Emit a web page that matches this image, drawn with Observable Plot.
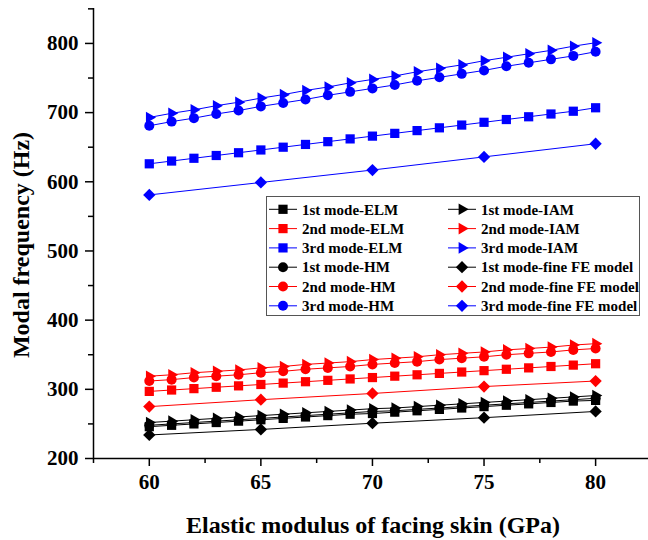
<!DOCTYPE html>
<html><head><meta charset="utf-8">
<script src="https://cdn.jsdelivr.net/npm/d3@7"></script>
<script src="https://cdn.jsdelivr.net/npm/@observablehq/plot@0.6"></script>
<style>
body{margin:0;background:#fff;}
#wrap{position:relative;width:648px;height:540px;overflow:hidden;}
#legend{position:absolute;left:266px;top:196px;}
</style></head><body><div id="wrap"></div>
<script>
// x values
const E = [60,61,62,63,64,65,66,67,68,69,70,71,72,73,74,75,76,77,78,79,80];
const E_FE = [60,65,70,75,80];

// 1st mode
const mode1_ELM = [246,248,250,252,254,256,258,260,262,264,265,267,269,271,273,275,277,279,281,283,284];
const mode1_IAM = [252,254,256,258,260,262,264,266,268,270,272,273,275,277,279,281,283,285,287,289,291];
const mode1_HM  = [248,250,252,254,256,258,260,262,264,266,268,269,271,273,275,277,279,281,283,285,287];
const mode1_FE  = [234,242,251,259,268];
// 2nd mode
const mode2_ELM = [297,299,301,303,305,307,309,311,313,315,317,319,321,323,325,327,329,331,333,335,337];
const mode2_IAM = [319,321,324,326,328,331,333,336,338,340,343,345,347,350,352,354,357,359,361,364,366];
const mode2_HM  = [312,314,317,319,321,324,326,329,331,333,336,338,340,343,345,347,350,352,354,357,359];
const mode2_FE  = [275,285,294,304,312];
// 3rd mode
const mode3_ELM = [626,630,634,638,642,646,650,654,658,662,666,670,674,678,682,686,690,694,698,702,707];
const mode3_IAM = [693,699,704,710,715,721,726,732,737,743,748,753,759,764,769,775,780,785,790,796,801];
const mode3_HM  = [681,687,692,698,703,709,714,719,725,730,735,740,746,751,756,761,767,772,777,782,788];
const mode3_FE  = [581,599,617,636,655];

const yTicks = [200,300,400,500,600,700,800];
const yMinor = [250,350,450,550,650,750,850];
const xTicks = [60,65,70,75,80];
const xMinor = [57.5,62.5,67.5,72.5,77.5];

const colors = {"1st":"#000000","2nd":"#ff0000","3rd":"#0000ff"};
const methods = {
  ELM:{symbol:"square", r:5.2, rotate:0},
  IAM:{symbol:"triangle", r:4.3, rotate:90},
  HM:{symbol:"circle", r:5, rotate:0},
  FE:{symbol:"square", r:4.9, rotate:45}
};
const series = [
  {mode:"1st", method:"ELM", label:"1st mode-ELM", x:E, y:mode1_ELM},
  {mode:"2nd", method:"ELM", label:"2nd mode-ELM", x:E, y:mode2_ELM},
  {mode:"3rd", method:"ELM", label:"3rd mode-ELM", x:E, y:mode3_ELM},
  {mode:"1st", method:"HM", label:"1st mode-HM", x:E, y:mode1_HM},
  {mode:"2nd", method:"HM", label:"2nd mode-HM", x:E, y:mode2_HM},
  {mode:"3rd", method:"HM", label:"3rd mode-HM", x:E, y:mode3_HM},
  {mode:"1st", method:"IAM", label:"1st mode-IAM", x:E, y:mode1_IAM},
  {mode:"2nd", method:"IAM", label:"2nd mode-IAM", x:E, y:mode2_IAM},
  {mode:"3rd", method:"IAM", label:"3rd mode-IAM", x:E, y:mode3_IAM},
  {mode:"1st", method:"FE", label:"1st mode-fine FE model", x:E_FE, y:mode1_FE},
  {mode:"2nd", method:"FE", label:"2nd mode-fine FE model", x:E_FE, y:mode2_FE},
  {mode:"3rd", method:"FE", label:"3rd mode-fine FE model", x:E_FE, y:mode3_FE}
];
const drawOrder = ["ELM","IAM","HM","FE"];

const FONT = "'Liberation Serif','Times New Roman',serif";
const marks = [];
for (const m of drawOrder) {
  for (const s of series.filter(d => d.method === m)) {
    const rows = s.x.map((x, i) => ({x, y: s.y[i]}));
    const c = colors[s.mode];
    const st = methods[s.method];
    marks.push(Plot.line(rows, {x:"x", y:"y", stroke:c, strokeWidth:1}));
    marks.push(Plot.dot(rows, {x:"x", y:"y", fill:c, stroke:"none", symbol:st.symbol, r:st.r, rotate:st.rotate}));
  }
}

const chart = Plot.plot({
  width:648, height:540,
  marginLeft:93, marginRight:0, marginTop:8, marginBottom:82,
  x:{domain:[57.5,82.37]},
  y:{domain:[200,850.5]},
  style:{fontFamily:FONT, background:"white", color:"black", overflow:"visible"},
  marks:[
    Plot.axisY({ticks:yMinor, tickSize:5, tickFormat:() => "", label:null, strokeWidth:1.5}),
    Plot.axisY({ticks:yTicks, tickSize:8, tickPadding:7, fontSize:21, fontWeight:"bold", label:null, strokeWidth:1.5}),
    Plot.axisX({ticks:xMinor, tickSize:5, tickFormat:() => "", label:null, strokeWidth:1.5}),
    Plot.axisX({ticks:xTicks, tickSize:8, tickPadding:8, fontSize:21, fontWeight:"bold", label:null, strokeWidth:1.5}),
    Plot.ruleX([57.5], {strokeWidth:1.5}),
    Plot.ruleY([200], {strokeWidth:1.5}),
    ...marks
  ]
});
document.getElementById("wrap").appendChild(chart);

const svg = d3.select(chart);
svg.append("text").attr("x", 373).attr("y", 533).attr("text-anchor","middle")
  .attr("font-family", FONT).attr("font-size", 24).attr("font-weight","bold").attr("fill","black")
  .text("Elastic modulus of facing skin (GPa)");
svg.append("text").attr("transform","translate(29,245) rotate(-90)").attr("text-anchor","middle")
  .attr("font-family", FONT).attr("font-size", 24).attr("font-weight","bold").attr("fill","black")
  .text("Modal frequency (Hz)");

// legend
const lg = d3.select("#wrap").append("svg").attr("id","legend").attr("width",375).attr("height",121);
lg.append("rect").attr("x",0.5).attr("y",0.5).attr("width",373).attr("height",119)
  .attr("fill","white").attr("stroke","#555").attr("stroke-width",1);
const legendCols = [["ELM","HM"],["IAM","FE"]];
const colX = [3, 182];
legendCols.forEach((ms, ci) => {
  const items = series.filter(s => ms.includes(s.method));
  items.sort((a,b) => ms.indexOf(a.method) - ms.indexOf(b.method));
  items.forEach((s, ri) => {
    const y = 13.3 + ri * 19.3;
    const x0 = colX[ci];
    const c = colors[s.mode];
    const st = methods[s.method];
    lg.append("line").attr("x1",x0).attr("x2",x0+28).attr("y1",y).attr("y2",y).attr("stroke",c).attr("stroke-width",1);
    const sym = d3.symbol(st.symbol === "circle" ? d3.symbolCircle : st.symbol === "triangle" ? d3.symbolTriangle : d3.symbolSquare, st.r*st.r*Math.PI);
    lg.append("path").attr("d", sym()).attr("fill", c)
      .attr("transform", `translate(${x0+14},${y}) rotate(${st.rotate})`);
    lg.append("text").attr("x", x0+33).attr("y", y).attr("dy","0.35em")
      .attr("font-family", FONT).attr("font-size", 15).attr("font-weight","bold").attr("fill","black")
      .text(s.label);
  });
});
</script></body></html>
